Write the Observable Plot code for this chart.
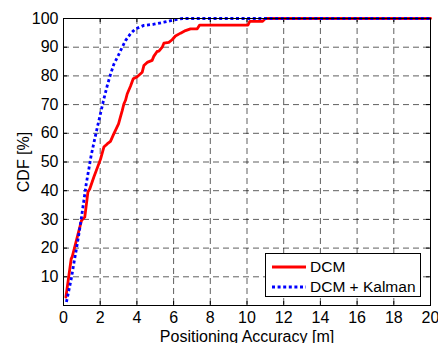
<!DOCTYPE html>
<html>
<head>
<meta charset="utf-8">
<script src="https://cdn.jsdelivr.net/npm/d3@7"></script>
<script src="https://cdn.jsdelivr.net/npm/@observablehq/plot@0.6"></script>
<style>
  html, body { margin: 0; padding: 0; background: #fff; }
  #wrap { position: relative; width: 438px; height: 343px; font-family: "Liberation Sans", Arial, sans-serif; }
  #legend { position: absolute; left: 265px; top: 253px; width: 156px; height: 44px; border: 1px solid #000; background: #fff; box-sizing: border-box; font-size: 15.5px; color: #000; }
  #legend .row { position: absolute; left: 0; height: 20px; display: flex; align-items: center; }
  #legend svg { margin-left: 6px; margin-right: 4px; }
</style>
</head>
<body>
<div id="wrap"><div id="legend"></div></div>
<script>
// Data
const dcmX = [0.13, 0.42, 0.47, 0.98, 1.16, 1.33, 1.43, 1.65, 2.02, 2.2, 2.38, 2.56, 2.74, 3.0, 3.1, 3.2, 3.29, 3.38, 3.47, 3.65, 3.8, 4.0, 4.29, 4.38, 4.56, 4.83, 4.92, 5.1, 5.2, 5.38, 5.47, 5.74, 5.92, 6.1, 6.38, 6.65, 6.92, 7.29, 7.42, 10.05, 10.15, 10.85, 11.0, 20];
const dcmY = [2.9, 16.3, 16.9, 29.6, 30.8, 39.5, 40.6, 44.7, 51.0, 55.2, 56.3, 57.2, 59.8, 63.3, 65.6, 67.9, 70.2, 71.5, 73.7, 76.4, 79.0, 79.6, 81.3, 83.6, 84.7, 85.4, 86.8, 88.5, 88.6, 90.0, 91.4, 91.7, 92.6, 93.9, 94.9, 95.8, 96.4, 96.4, 97.7, 97.7, 99.0, 99.0, 100, 100];
const kalX = [0.16, 0.29, 0.44, 0.56, 0.69, 0.84, 0.98, 1.11, 1.24, 1.38, 1.5, 1.65, 1.84, 2.02, 2.2, 2.38, 2.56, 2.74, 3.0, 3.2, 3.38, 3.65, 3.9, 4.38, 4.92, 5.47, 6.0, 6.5, 20];
const kalY = [1.2, 5.2, 9.9, 14.5, 19.2, 25.0, 30.8, 36.6, 42.4, 47.5, 52.0, 56.5, 62.0, 67.0, 72.0, 76.5, 80.5, 84.0, 87.3, 90.0, 92.3, 94.7, 96.3, 97.6, 98.0, 98.7, 99.5, 100, 100];
const xTicks = [0, 2, 4, 6, 8, 10, 12, 14, 16, 18, 20];
const yTicks = [10, 20, 30, 40, 50, 60, 70, 80, 90, 100];
const seriesNames = ["DCM", "DCM + Kalman"];
const xLabel = "Positioning Accuracy [m]";
const yLabel = "CDF [%]";

const dcm = dcmX.map((x, i) => ({x, y: dcmY[i]}));
const kal = kalX.map((x, i) => ({x, y: kalY[i]}));

const plotH = 343 - 18 - 38;
const plotW = 438 - 63 - 8;

const chart = Plot.plot({
  width: 438,
  height: 343,
  marginLeft: 63,
  marginRight: 8,
  marginTop: 18,
  marginBottom: 38,
  style: {fontFamily: "'Liberation Sans', Arial, sans-serif", fontSize: "16px", color: "#000", background: "#fff", overflow: "visible"},
  x: {domain: [0, 20], ticks: xTicks, tickSize: 0, tickPadding: 6, label: xLabel, labelAnchor: "center", labelOffset: 36, labelArrow: "none"},
  y: {domain: [0, 100], ticks: yTicks, tickSize: 0, tickPadding: 5, label: yLabel, labelAnchor: "center", labelOffset: 46, labelArrow: "none"},
  marks: [
    Plot.ruleX(xTicks.slice(1, -1), {stroke: "#000", strokeOpacity: 0.7, strokeWidth: 0.9, strokeDasharray: "6,4"}),
    Plot.ruleY(yTicks.slice(0, -1), {stroke: "#000", strokeOpacity: 0.7, strokeWidth: 0.9, strokeDasharray: "6,4"}),
    // inner tick marks (MATLAB style) on all four sides
    Plot.ruleX(xTicks, {stroke: "#000", insetTop: plotH - 4}),
    Plot.ruleX(xTicks, {stroke: "#000", insetBottom: plotH - 4}),
    Plot.ruleY(yTicks, {stroke: "#000", insetRight: plotW - 4}),
    Plot.ruleY(yTicks, {stroke: "#000", insetLeft: plotW - 4}),
    Plot.line(dcm, {x: "x", y: "y", stroke: "#ff0000", strokeWidth: 2.8}),
    Plot.line(kal, {x: "x", y: "y", stroke: "#0000ff", strokeWidth: 2.8, strokeDasharray: "3,2.6", strokeLinecap: "butt"}),
    Plot.frame({stroke: "#000", strokeWidth: 1})
  ]
});
const wrap = document.getElementById("wrap");
wrap.insertBefore(chart, wrap.firstChild);

// Legend
const legend = document.getElementById("legend");
const styles = [
  {stroke: "#ff0000", dash: ""},
  {stroke: "#0000ff", dash: "3,2.6"}
];
seriesNames.forEach((name, i) => {
  const row = document.createElement("div");
  row.className = "row";
  row.style.top = (3 + i * 20) + "px";
  row.innerHTML = `<svg width="34" height="6"><line x1="0" x2="34" y1="3" y2="3" stroke="${styles[i].stroke}" stroke-width="3" ${styles[i].dash ? `stroke-dasharray="${styles[i].dash}"` : ""}/></svg><span>${name}</span>`;
  legend.appendChild(row);
});
</script>
</body>
</html>
